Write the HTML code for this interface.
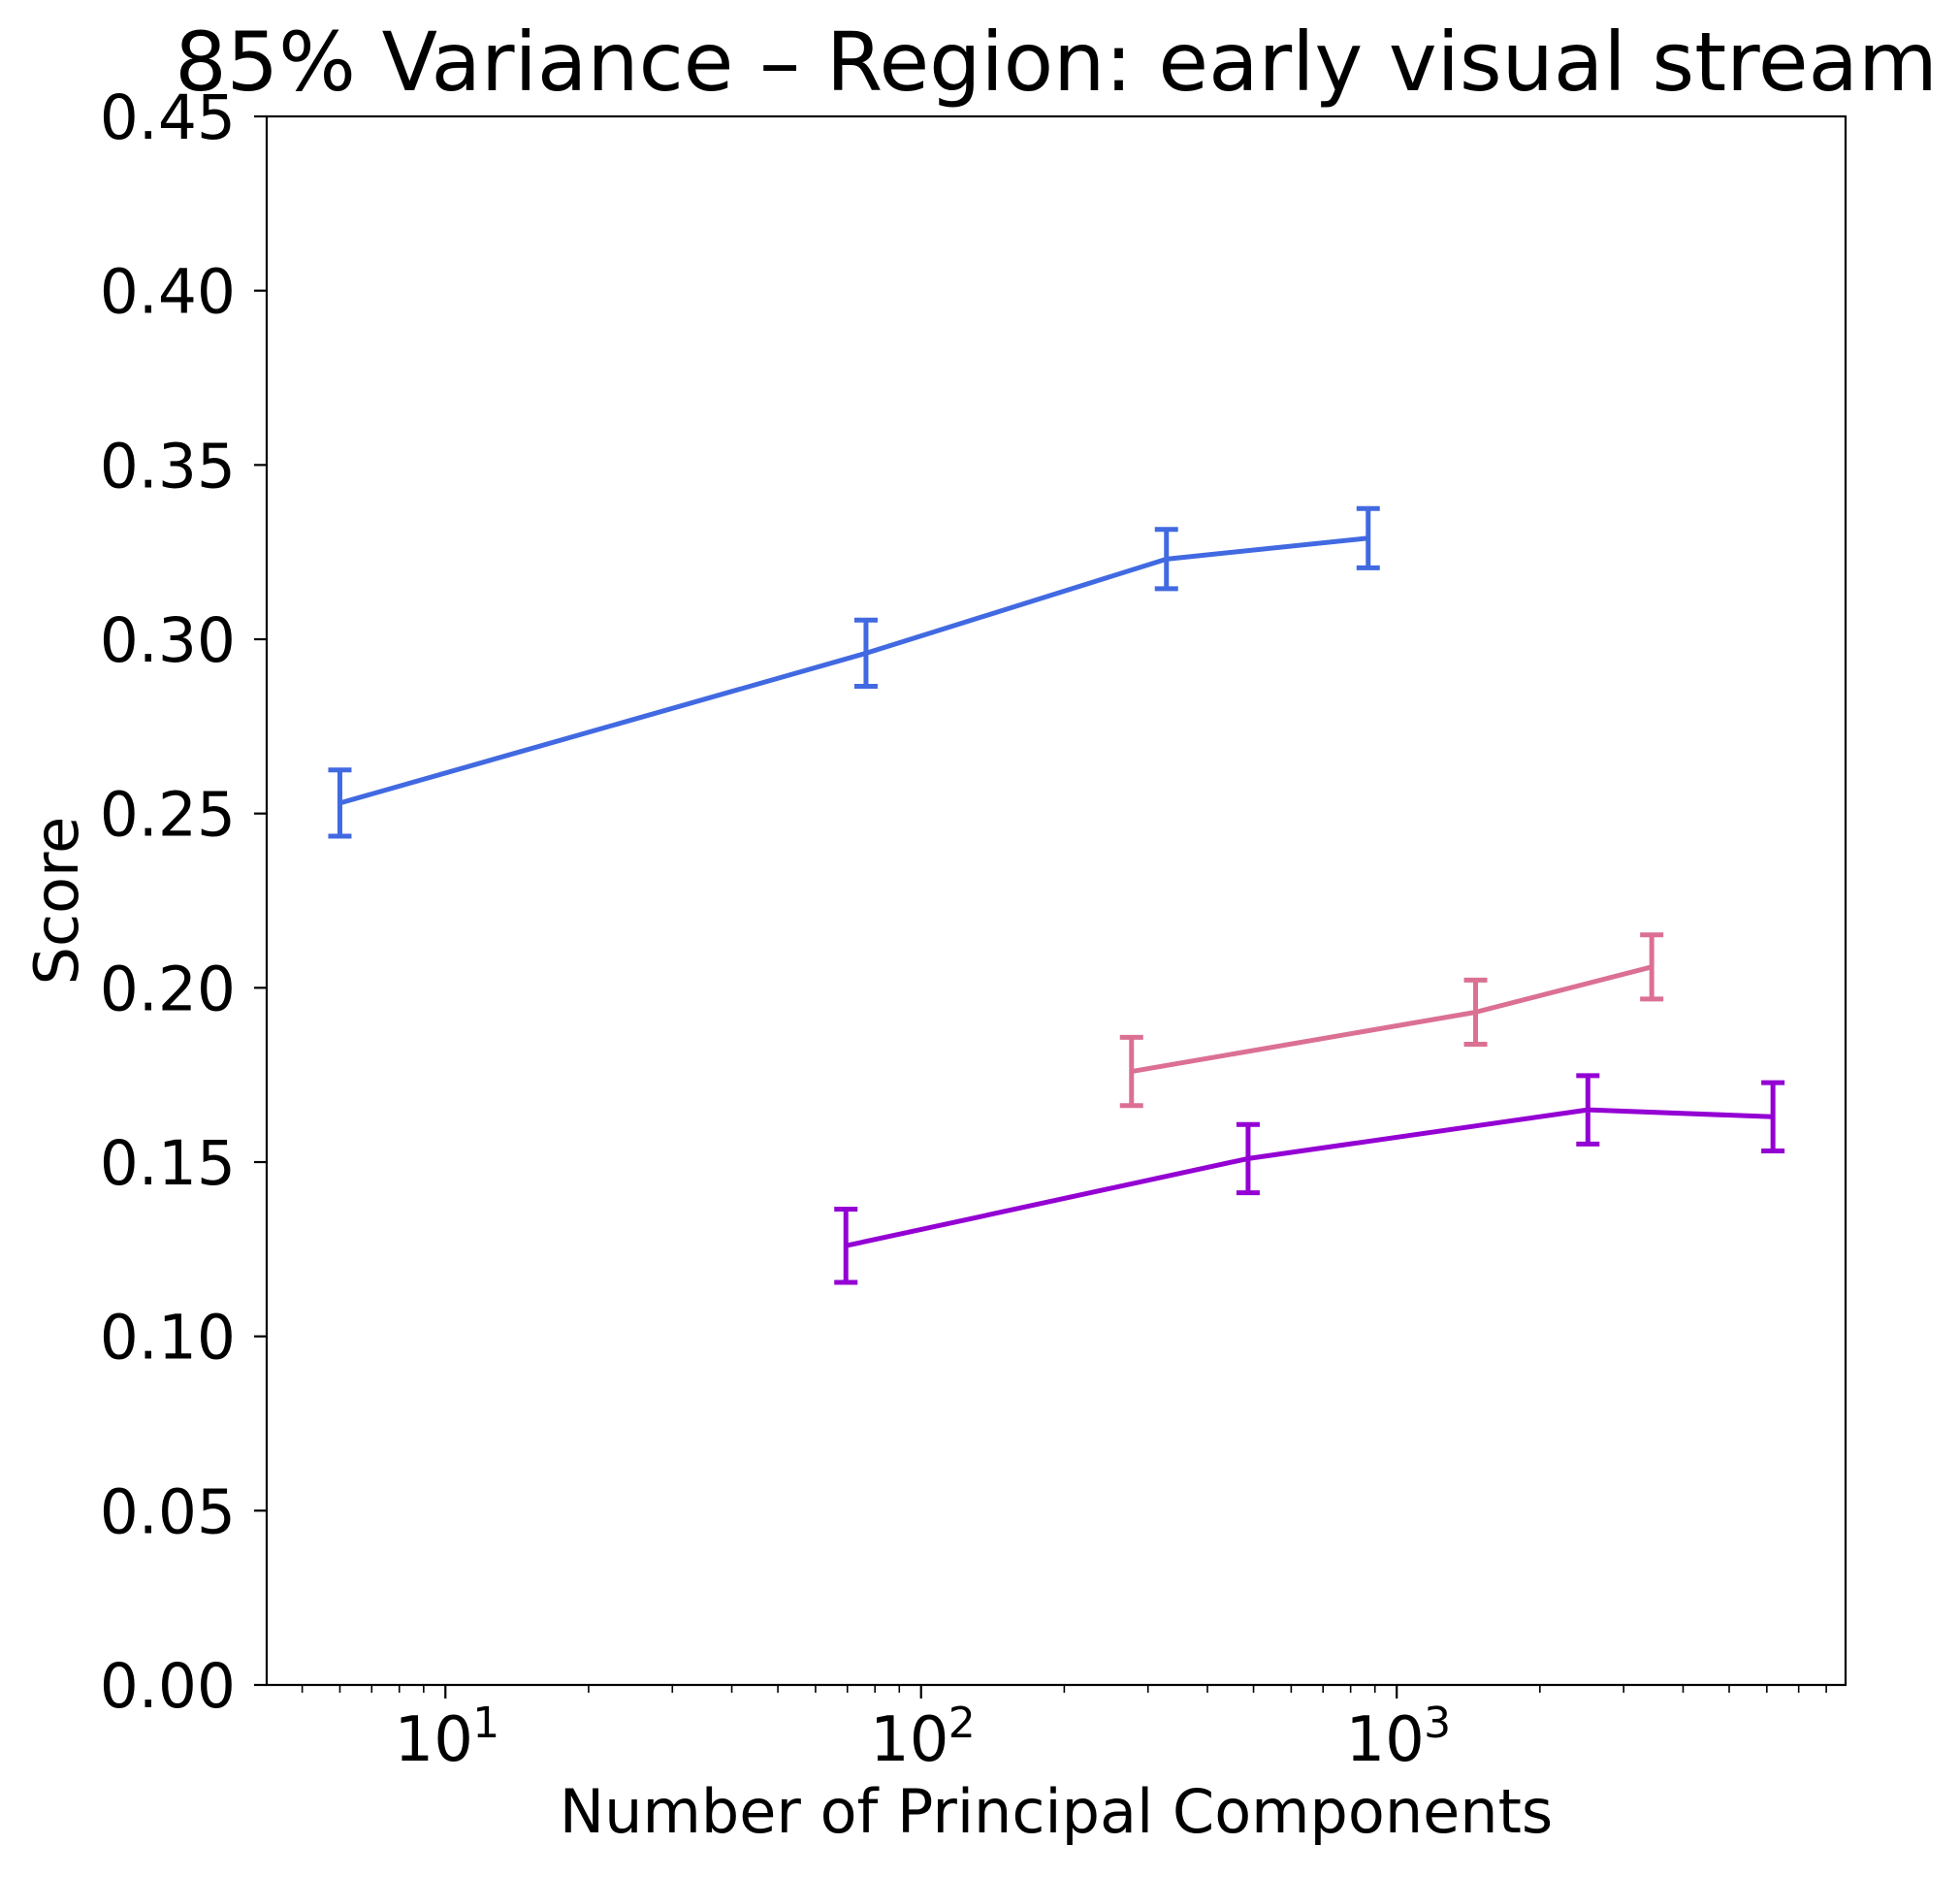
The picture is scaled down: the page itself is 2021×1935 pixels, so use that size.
<!DOCTYPE html>
<html><head><meta charset="utf-8"><style>
html,body{margin:0;padding:0;background:#fff}
svg{display:block;font-family:"DejaVu Sans","Liberation Sans",sans-serif}
</style></head><body>
<svg id="chart" width="2021" height="1935" viewBox="0 0 2021 1935" xmlns="http://www.w3.org/2000/svg">
<rect width="2021" height="1935" fill="#fff"/>
<g id="plot"></g>
</svg>
<script>
const seriesBlueX=[6,76.6,328,871];
const seriesBlueY=[0.253,0.296,0.323,0.329];
const seriesBlueErr=[0.0095,0.0095,0.0085,0.0085];
const seriesPinkX=[277,1465,3437];
const seriesPinkY=[0.176,0.193,0.206];
const seriesPinkErr=[0.0098,0.0092,0.0092];
const seriesPurpleX=[69.5,487,2523,6180];
const seriesPurpleY=[0.126,0.151,0.165,0.163];
const seriesPurpleErr=[0.0105,0.0098,0.0098,0.0098];
const yTicks=[0,0.05,0.1,0.15,0.2,0.25,0.3,0.35,0.4,0.45];
const yTickLabels=["0.00","0.05","0.10","0.15","0.20","0.25","0.30","0.35","0.40","0.45"];
const xMajorTicks=[10,100,1000];
const xMajorExps=["1","2","3"];

const NS="http://www.w3.org/2000/svg";
const L=275,R=1903,T=120,B=1737;
const xMin=4.21,xMax=8783,yMin=0,yMax=0.45;
function xs(v){return L+(Math.log10(v)-Math.log10(xMin))/(Math.log10(xMax)-Math.log10(xMin))*(R-L);}
function ys(v){return B-(v-yMin)/(yMax-yMin)*(B-T);}
const g=document.getElementById('plot');
function mk(tag,attrs,parent){const e=document.createElementNS(NS,tag);for(const k in attrs)e.setAttribute(k,attrs[k]);(parent||g).appendChild(e);return e;}

yTicks.forEach((v,i)=>{
  const t=mk('line',{x1:L-13,x2:L,y1:ys(v),y2:ys(v),stroke:'#000','stroke-width':2.2});
  
  
  const tx=mk('text',{x:L-32,y:ys(v)+23,'text-anchor':'end','font-size':63,fill:'#000'});
  tx.textContent=yTickLabels[i];
  
  
});
for(let d=0;d<=3;d++){for(let m=2;m<=9;m++){const v=m*Math.pow(10,d);if(v<xMin||v>xMax)continue;
  const t=mk('line',{x1:xs(v),x2:xs(v),y1:B,y2:B+8,stroke:'#000','stroke-width':1.6});
  
  
}}
xMajorTicks.forEach((v,i)=>{
  const t=mk('line',{x1:xs(v),x2:xs(v),y1:B,y2:B+14,stroke:'#000','stroke-width':2.2});
  
  
  const tx=mk('text',{x:xs(v)-12,y:B+78,'text-anchor':'middle','font-size':64,fill:'#000'});
  tx.textContent='10';
  
  
  const sp=mk('text',{x:xs(v)+42,y:B+54,'text-anchor':'middle','font-size':44,fill:'#000'});
  sp.textContent=xMajorExps[i];
  
  
});
function series(X,Y,E,color,name){
  const pts=X.map((x,i)=>xs(x)+','+ys(Y[i])).join(' ');
  const pl=mk('polyline',{points:pts,fill:'none',stroke:color,'stroke-width':5,'stroke-linejoin':'round'});
  
  
  X.forEach((x,i)=>{
    const cx=xs(x),y1=ys(Y[i]-E[i]),y2=ys(Y[i]+E[i]);
    const eg=mk('g',{stroke:color,'stroke-width':5});
    
    
    mk('line',{x1:cx,x2:cx,y1:y1,y2:y2},eg);
    mk('line',{x1:cx-12,x2:cx+12,y1:y1,y2:y1},eg);
    mk('line',{x1:cx-12,x2:cx+12,y1:y2,y2:y2},eg);
  });
}
series(seriesBlueX,seriesBlueY,seriesBlueErr,'#4169E1','blue-series');
series(seriesPinkX,seriesPinkY,seriesPinkErr,'#DB7093','pink-series');
series(seriesPurpleX,seriesPurpleY,seriesPurpleErr,'#9400D3','purple-series');

const fr=mk('rect',{x:L,y:T,width:R-L,height:B-T,fill:'none',stroke:'#000','stroke-width':2.2});


const ti=mk('text',{x:(L+R)/2,y:93,'text-anchor':'middle','font-size':84,fill:'#000'});
ti.textContent='85% Variance \u2013 Region: early visual stream';


const xl=mk('text',{x:(L+R)/2,y:1889,'text-anchor':'middle','font-size':62,fill:'#000'});
xl.textContent='Number of Principal Components';


const yl=mk('text',{x:0,y:0,'text-anchor':'middle','font-size':62,fill:'#000',transform:'translate(80,'+((T+B)/2)+') rotate(-90)'});
yl.textContent='Score';


</script>
</body></html>
